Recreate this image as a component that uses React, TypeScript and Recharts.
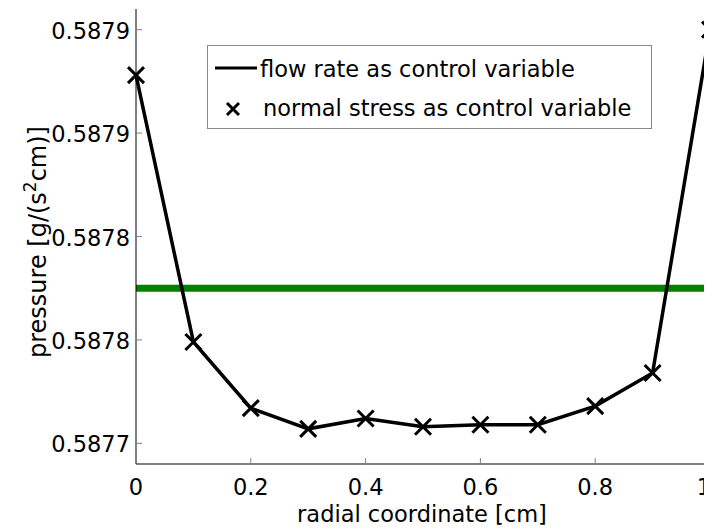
import React from 'react';
import { ComposedChart, Line, XAxis, YAxis, Legend, ReferenceLine } from 'recharts';

const radius = [0, 0.1, 0.2, 0.3, 0.4, 0.5, 0.6, 0.7, 0.8, 0.9, 1];
const pressure = [
  0.587878, 0.587749, 0.587717, 0.587707, 0.587712, 0.587708, 0.587709, 0.587709, 0.587718,
  0.587734, 0.5879,
];
const targetPressure = 0.587775;

const xTicks = [0, 0.2, 0.4, 0.6, 0.8, 1];
const xTickLabels = ['0', '0.2', '0.4', '0.6', '0.8', '1'];
const yTicks = [0.5877, 0.58775, 0.5878, 0.58785, 0.5879];
const yTickLabels = ['0.5877', '0.5878', '0.5878', '0.5879', '0.5879'];
const yDomain = [0.58769, 0.58791];

const seriesNames = ['flow rate as control variable', 'normal stress as control variable'];

const data = radius.map((r, i) => ({ r, flow: pressure[i], stress: pressure[i] }));

const FONT = '"DejaVu Sans", sans-serif';
const TICK_GRAY = '#808080';

const XTick = (props: any) => {
  const { x, y, payload } = props;
  const idx = xTicks.indexOf(payload.value);
  const last = idx === xTicks.length - 1;
  // the last label sits on the window edge; keep it inside the page
  return (
    <g>
      <line x1={x} y1={y} x2={x} y2={y - 6} stroke={TICK_GRAY} strokeWidth={1} />
      <text
        x={last ? x + 1 : x}
        y={y + 31}
        textAnchor={last ? 'end' : 'middle'}
        fontFamily={FONT}
        fontSize={22.5}
        fill="#000"
      >
        {xTickLabels[idx]}
      </text>
    </g>
  );
};

const TopTick = (props: any) => {
  const { x, y } = props;
  return <line x1={x} y1={y} x2={x} y2={y + 6} stroke={TICK_GRAY} strokeWidth={1} />;
};

const YTick = (props: any) => {
  const { x, y, payload } = props;
  const label = yTickLabels[yTicks.indexOf(payload.value)];
  return (
    <g>
      <line x1={x} y1={y} x2={x + 6} y2={y} stroke={TICK_GRAY} strokeWidth={1} />
      <text x={x - 6} y={y + 9} textAnchor="end" fontFamily={FONT} fontSize={22.5} fill="#000">
        {label}
      </text>
    </g>
  );
};

const RightTick = (props: any) => {
  const { x, y } = props;
  return <line x1={x} y1={y} x2={x - 6} y2={y} stroke={TICK_GRAY} strokeWidth={1} />;
};

const XTitle = () => (
  <text x={414} y={514} textAnchor="middle" fontFamily={FONT} fontSize={22.5} fill="#000">
    radial coordinate [cm]
  </text>
);

const YTitle = () => (
  <text
    x={38}
    y={234}
    transform="rotate(-90, 38, 234)"
    textAnchor="middle"
    fontFamily={FONT}
    fontSize={24}
    fill="#000"
  >
    pressure [g/(s
    <tspan dy={-10} fontSize={17}>
      2
    </tspan>
    <tspan dy={10}>cm)]</tspan>
  </text>
);

const XMark = (props: any) => {
  const { cx, cy, index } = props;
  const s = 8;
  return (
    <path
      key={`m-${index}`}
      d={`M${cx - s},${cy - s}L${cx + s},${cy + s}M${cx - s},${cy + s}L${cx + s},${cy - s}`}
      stroke="#000"
      strokeWidth={3}
      fill="none"
    />
  );
};

const LegendBox = () => (
  <svg width={445} height={84} style={{ display: 'block' }}>
    <rect x={0.5} y={0.5} width={444} height={83} fill="#fff" stroke="#888" strokeWidth={1} />
    <line x1={8} y1={23} x2={50} y2={23} stroke="#000" strokeWidth={3} />
    <text x={53} y={32} fontFamily={FONT} fontSize={22.5} fill="#000">
      {seriesNames[0]}
    </text>
    <path d="M20,58L32,70M20,70L32,58" stroke="#000" strokeWidth={3} fill="none" />
    <text x={56} y={71} fontFamily={FONT} fontSize={22.5} fill="#000">
      {seriesNames[1]}
    </text>
  </svg>
);

const App: React.FC = () => {
  return (
    <ComposedChart
      width={704}
      height={521}
      data={data}
      margin={{ top: 1, right: 2, bottom: 0, left: 0 }}
    >
      <XAxis
        dataKey="r"
        type="number"
        domain={[0, 1]}
        ticks={xTicks}
        interval={0}
        tickSize={0}
        tickMargin={0}
        tickLine={false}
        tick={<XTick />}
        axisLine={{ stroke: TICK_GRAY, strokeWidth: 2 }}
        height={65}
        label={<XTitle />}
      />
      <XAxis
        xAxisId="top"
        orientation="top"
        type="number"
        domain={[0, 1]}
        ticks={xTicks}
        interval={0}
        tickSize={0}
        tickMargin={0}
        tickLine={false}
        tick={<TopTick />}
        axisLine={{ stroke: TICK_GRAY, strokeWidth: 1 }}
        height={0}
      />
      <YAxis
        yAxisId="p"
        type="number"
        domain={yDomain}
        ticks={yTicks}
        interval={0}
        tickSize={0}
        tickMargin={0}
        tickLine={false}
        tick={<YTick />}
        axisLine={{ stroke: '#000', strokeWidth: 1 }}
        width={128}
        label={<YTitle />}
      />
      <YAxis
        yAxisId="right"
        orientation="right"
        type="number"
        domain={yDomain}
        ticks={yTicks}
        interval={0}
        tickSize={0}
        tickMargin={0}
        tickLine={false}
        tick={<RightTick />}
        axisLine={{ stroke: '#404040', strokeWidth: 1 }}
        width={0}
      />
      <ReferenceLine yAxisId="p" y={targetPressure} stroke="#008000" strokeWidth={7} />
      <Line
        yAxisId="p"
        dataKey="flow"
        name={seriesNames[0]}
        type="linear"
        stroke="#000"
        strokeWidth={3.5}
        dot={false}
        activeDot={false}
        isAnimationActive={false}
      />
      <Line
        yAxisId="p"
        dataKey="stress"
        name={seriesNames[1]}
        type="linear"
        stroke="none"
        dot={(p: any) => <XMark key={`d-${p.index}`} {...p} />}
        activeDot={false}
        isAnimationActive={false}
      />
      <Legend
        layout="vertical"
        verticalAlign="middle"
        align="center"
        content={() => <LegendBox />}
        wrapperStyle={{ position: 'absolute', left: 199, top: 37, width: 445, height: 84 }}
      />
    </ComposedChart>
  );
};

export default App;
